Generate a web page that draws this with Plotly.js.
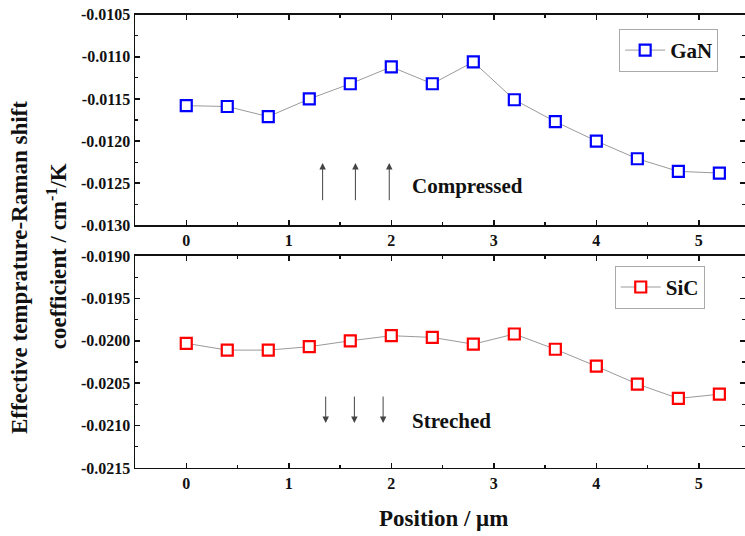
<!DOCTYPE html>
<html>
<head>
<meta charset="utf-8">
<script src="https://cdn.plot.ly/plotly-3.0.1.min.js"></script>
<style>html,body{margin:0;padding:0;background:#fff;}#chart{width:745px;height:536px;}</style>
</head>
<body>
<div id="chart"></div>
<script>
// ---- data ----
const position = [0, 0.4, 0.8, 1.2, 1.6, 2.0, 2.4, 2.8, 3.2, 3.6, 4.0, 4.4, 4.8, 5.2];
const ganCoef = [-0.01158, -0.01159, -0.01171, -0.01150, -0.01132, -0.01112, -0.01132, -0.01106, -0.01151, -0.01177, -0.01200, -0.01221, -0.01236, -0.01238];
const sicCoef = [-0.02003, -0.02011, -0.02011, -0.02007, -0.02000, -0.01994, -0.01996, -0.02004, -0.01992, -0.02010, -0.02030, -0.02051, -0.02068, -0.02063];
const xTickVals = [0, 1, 2, 3, 4, 5];
const xTickText = ['0', '1', '2', '3', '4', '5'];
const ganTickVals = [-0.0130, -0.0125, -0.0120, -0.0115, -0.0110, -0.0105];
const ganTickText = ['-0.0130', '-0.0125', '-0.0120', '-0.0115', '-0.0110', '-0.0105'];
const sicTickVals = [-0.0215, -0.0210, -0.0205, -0.0200, -0.0195, -0.0190];
const sicTickText = ['-0.0215', '-0.0210', '-0.0205', '-0.0200', '-0.0195', '-0.0190'];
const compressedArrowX = [1.33, 1.65, 1.98];
const strechedArrowX = [1.36, 1.64, 1.92];

const serif = 'Liberation Serif';
const boldFont = (size, color) => ({family: serif, size: size, color: color || '#111', weight: 'bold'});

const traces = [
  {x: position, y: ganCoef, name: 'GaN', type: 'scatter', mode: 'lines+markers',
   xaxis: 'x', yaxis: 'y', legend: 'legend',
   line: {color: '#9a9a9a', width: 1},
   marker: {symbol: 'square', size: 11, color: '#ffffff', line: {color: '#0000ff', width: 2.2}}},
  {x: position, y: sicCoef, name: 'SiC', type: 'scatter', mode: 'lines+markers',
   xaxis: 'x2', yaxis: 'y2', legend: 'legend2',
   line: {color: '#9a9a9a', width: 1},
   marker: {symbol: 'square', size: 11, color: '#ffffff', line: {color: '#ff0000', width: 2.2}}}
];

const xCommon = {
  range: [-0.5, 5.45], tickvals: xTickVals, ticktext: xTickText,
  ticks: 'inside', ticklen: 5, tickwidth: 1.5, tickcolor: '#111',
  showline: true, linecolor: '#111', linewidth: 1.5, mirror: 'ticks',
  showgrid: false, zeroline: false, tickfont: boldFont(16),
  minor: {dtick: 0.5, tick0: 0, ticks: 'inside', ticklen: 3, tickcolor: '#111', tickwidth: 1.2, showgrid: false}
};
const yCommon = {
  ticks: 'inside', ticklen: 5, tickwidth: 1.5, tickcolor: '#111',
  showline: true, linecolor: '#111', linewidth: 1.5, mirror: 'ticks',
  showgrid: false, zeroline: false, tickfont: boldFont(16),
  minor: {dtick: 0.00025, ticks: 'inside', ticklen: 3, tickcolor: '#111', tickwidth: 1.2, showgrid: false}
};

const annotations = [];
compressedArrowX.forEach(x => annotations.push({
  x: x, y: -0.01226, ax: x, ay: -0.01272, xref: 'x', yref: 'y', axref: 'x', ayref: 'y',
  text: '', showarrow: true, arrowhead: 2, arrowsize: 1.3, arrowwidth: 1, arrowcolor: '#444'
}));
strechedArrowX.forEach(x => annotations.push({
  x: x, y: -0.02097, ax: x, ay: -0.02064, xref: 'x2', yref: 'y2', axref: 'x2', ayref: 'y2',
  text: '', showarrow: true, arrowhead: 2, arrowsize: 1.3, arrowwidth: 1, arrowcolor: '#444'
}));
const centered = {xanchor: 'center', yanchor: 'middle', showarrow: false};
annotations.push(Object.assign({x: 2.74, y: -0.01253, xref: 'x', yref: 'y', text: 'Compressed', font: boldFont(21)}, centered));
annotations.push(Object.assign({x: 2.59, y: -0.020946, xref: 'x2', yref: 'y2', text: 'Streched', font: boldFont(21)}, centered));
annotations.push(Object.assign({x: -0.190, y: 0.5, xref: 'paper', yref: 'paper', textangle: -90,
  text: 'Effective temprature-Raman shift', font: boldFont(23)}, centered));
annotations.push(Object.assign({x: -0.128, y: 0.522, xref: 'paper', yref: 'paper', textangle: -90,
  text: 'coefficient / cm<sup>-1</sup>/K', font: boldFont(23)}, centered));
annotations.push(Object.assign({x: 0.505, y: 0.032, xref: 'paper', yref: 'paper',
  text: 'Position / μm', font: boldFont(23)}, centered));

const legendCommon = {
  bgcolor: '#ffffff', bordercolor: '#aaaaaa', borderwidth: 1,
  font: boldFont(21), xanchor: 'right', yanchor: 'top', itemwidth: 40
};

const layout = {
  width: 745, height: 536,
  margin: {l: 135, r: 0, t: 0, b: 0},
  paper_bgcolor: '#ffffff', plot_bgcolor: '#ffffff',
  showlegend: true,
  xaxis: Object.assign({}, xCommon, {anchor: 'y'}),
  yaxis: Object.assign({}, yCommon, {domain: [0.5797, 0.9726], range: [-0.0130, -0.0105], tickvals: ganTickVals, ticktext: ganTickText, anchor: 'x'}),
  xaxis2: Object.assign({}, xCommon, {anchor: 'y2'}),
  yaxis2: Object.assign({}, yCommon, {domain: [0.1269, 0.5224], range: [-0.0215, -0.0190], tickvals: sicTickVals, ticktext: sicTickText, anchor: 'x2'}),
  legend: Object.assign({}, legendCommon, {x: 0.956, y: 0.946}),
  legend2: Object.assign({}, legendCommon, {x: 0.934, y: 0.504}),
  annotations: annotations
};

Plotly.newPlot('chart', traces, layout, {displayModeBar: false, staticPlot: true});
</script>
</body>
</html>
